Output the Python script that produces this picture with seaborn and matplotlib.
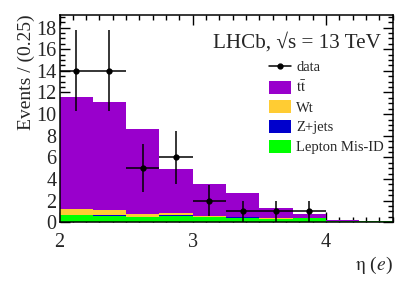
import numpy as np
import pandas as pd
import seaborn as sns
from matplotlib import pyplot as plt
from matplotlib.patches import Patch
from matplotlib.lines import Line2D
from matplotlib.ticker import MultipleLocator

# bin edges in eta(e), 0.25 wide
edges = [2.0, 2.25, 2.5, 2.75, 3.0, 3.25, 3.5, 3.75, 4.0, 4.25, 4.5]
centers = [2.125, 2.375, 2.625, 2.875, 3.125, 3.375, 3.625, 3.875, 4.125, 4.375]

# stacked expectations per bin
ttbar = [10.37, 9.94, 7.83, 4.06, 2.96, 2.16, 0.98, 0.40, 0.07, 0.0]
wt = [0.56, 0.50, 0.25, 0.22, 0.06, 0.06, 0.03, 0.02, 0.0, 0.0]
zjets = [0.03, 0.03, 0.03, 0.03, 0.03, 0.03, 0.02, 0.02, 0.0, 0.0]
misid = [0.64, 0.61, 0.49, 0.61, 0.49, 0.43, 0.30, 0.37, 0.15, 0.10]

# observed events
data_x = [2.125, 2.375, 2.625, 2.875, 3.125, 3.375, 3.625, 3.875]
data_y = [14, 14, 5, 6, 2, 1, 1, 1]

processes = ['ttbar', 'Wt', 'Z+jets', 'Lepton Mis-ID']
labels = [r'$\mathrm{t\bar{t}}$', 'Wt', 'Z+jets', 'Lepton Mis-ID']
colors = ['#9900cc', '#ffcc33', '#0000cc', '#00ff00']

sns.set_style('ticks')
plt.rcParams['font.family'] = ['Liberation Serif', 'DejaVu Serif']
plt.rcParams['mathtext.fontset'] = 'stix'

rows = []
for name, vals in zip(processes, [ttbar, wt, zjets, misid]):
    for c, v in zip(centers, vals):
        rows.append({'eta': c, 'events': v, 'process': name})
df = pd.DataFrame(rows)

fig = plt.figure(figsize=(4.15, 2.81), dpi=100)
ax = fig.add_axes([0.1434, 0.209, 0.8026, 0.739])

sns.histplot(data=df, x='eta', weights='events', hue='process',
             hue_order=processes, palette=dict(zip(processes, colors)),
             multiple='stack', bins=edges, alpha=1, linewidth=0,
             legend=False, ax=ax)

ax.errorbar(data_x, data_y, xerr=0.125, yerr=np.sqrt(data_y), fmt='o',
            color='black', ms=3.5, elinewidth=1.1, capsize=0, zorder=5)

ax.set_xlim(2, 4.5)
ax.set_ylim(0, 19.2)
ax.xaxis.set_major_locator(MultipleLocator(1))
ax.xaxis.set_minor_locator(MultipleLocator(0.1))
ax.yaxis.set_major_locator(MultipleLocator(2))
ax.yaxis.set_minor_locator(MultipleLocator(0.5))
ax.tick_params(which='both', direction='in', top=True, right=True,
               labelsize=14.5, width=1.0, color='black')
ax.tick_params(which='major', length=7)
ax.tick_params(which='minor', length=3.5)
ax.tick_params(axis='x', pad=8)
ax.tick_params(axis='y', pad=2)
for s in ax.spines.values():
    s.set_linewidth(1.1)
    s.set_color('black')

ax.set_ylabel('Events / (0.25)', fontsize=14, loc='top', labelpad=1)
ax.set_xlabel(r'$\mathrm{\eta}$ ($e$)', fontsize=14, loc='right', labelpad=2)

ax.text(0.965, 0.84, 'LHCb, \u221as = 13 TeV', transform=ax.transAxes,
        ha='right', va='baseline', fontsize=15.2)

handles = [Line2D([0], [0], color='black', marker='o', ms=3.5, lw=1.1)]
handles += [Patch(facecolor=c, edgecolor='none') for c in colors]
ax.legend(handles, ['data'] + labels, loc='upper left',
          bbox_to_anchor=(0.61, 0.81), frameon=False, fontsize=10.5,
          handlelength=1.55, handleheight=1.0, handletextpad=0.35,
          labelspacing=0.35, borderaxespad=0)

fig.savefig('out.png', dpi=100)
